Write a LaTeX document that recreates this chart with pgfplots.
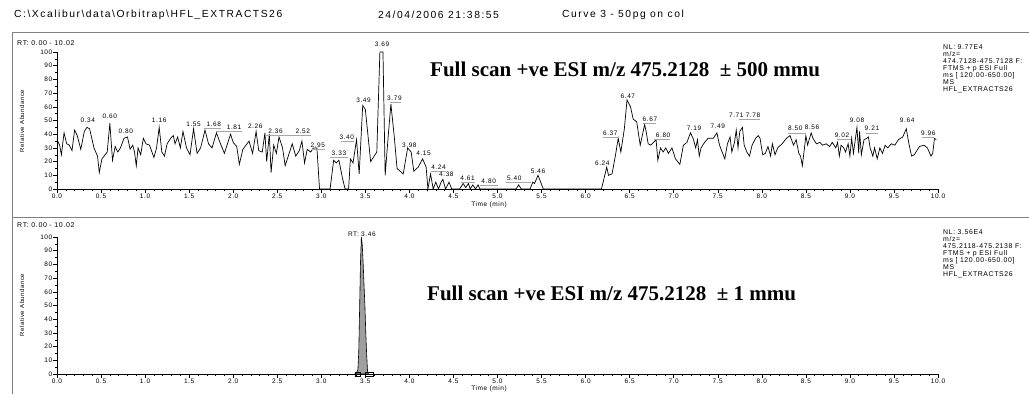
\documentclass[border=0pt]{standalone}
\usepackage{fontspec}
\setmainfont{Liberation Sans}
\newfontfamily\hdrfont[LetterSpace=15]{Liberation Sans}
\newfontfamily\smfont[LetterSpace=9]{Liberation Sans}
\newfontfamily\bigfont{Liberation Serif}
\usepackage{pgfplots}
\usepackage{pgfplotstable}
\pgfplotsset{compat=1.18}

\pgfplotstableread{
t v
0.00 36
0.03 32
0.05 25
0.08 41
0.11 33
0.14 32
0.17 28
0.20 43
0.23 39
0.27 29
0.31 42
0.34 45
0.37 44
0.42 30
0.46 24
0.48 12
0.51 22
0.57 27
0.60 48
0.63 21
0.66 31
0.69 27
0.72 30
0.76 37
0.80 38
0.83 29
0.86 32
0.88 27
0.90 17
0.92 30
0.95 25
0.98 37
1.01 33
1.05 32
1.10 23
1.13 30
1.16 45
1.19 27
1.22 24
1.25 33
1.29 37
1.32 39
1.34 33
1.37 38
1.40 30
1.43 42
1.47 30
1.51 25
1.55 44
1.59 26
1.63 30
1.68 43
1.72 33
1.76 30
1.81 41
1.85 34
1.90 26
1.97 40
2.00 34
2.04 31
2.07 18
2.11 29
2.18 35
2.22 26
2.26 42
2.29 28
2.33 27
2.36 41
2.38 20
2.41 40
2.43 12
2.46 32
2.49 26
2.52 38
2.56 30
2.59 17
2.63 25
2.67 33
2.71 24
2.75 28
2.78 35
2.81 19
2.84 29
2.88 27
2.91 30
2.95 30
2.98 0
3.10 0
3.14 21
3.17 19
3.20 21
3.24 8
3.27 0
3.31 0
3.33 22
3.36 19
3.40 36
3.43 11
3.47 61
3.50 58
3.56 20
3.63 27
3.665 100
3.70 100
3.725 10
3.76 39
3.79 62
3.83 37
3.86 15
3.93 11
3.98 30
4.02 27
4.05 13
4.10 16
4.15 22
4.19 16
4.21 0
4.24 11
4.27 0
4.30 5
4.33 0
4.36 5
4.38 7
4.41 0
4.45 5
4.48 0
4.57 0
4.61 4
4.64 1
4.67 4
4.69 0
4.72 3
4.75 0
4.78 3
4.80 0
5.21 0
5.24 3
5.27 0
5.37 0
5.40 5
5.42 4
5.46 10
5.52 0
6.18 0
6.24 16
6.26 10
6.30 11
6.34 25
6.37 37
6.40 27
6.44 44
6.47 65
6.51 60
6.54 51
6.58 49
6.62 32
6.67 47
6.69 41
6.71 33
6.74 32
6.80 36
6.82 21
6.85 30
6.88 27
6.91 30
6.94 26
6.98 30
7.02 22
7.07 18
7.11 32
7.15 34
7.19 41
7.22 37
7.25 30
7.27 36
7.29 24
7.31 30
7.35 34
7.39 37
7.45 37
7.49 41
7.52 32
7.55 27
7.58 22
7.61 33
7.64 38
7.66 27
7.69 34
7.71 43
7.73 30
7.75 42
7.78 45
7.80 32
7.83 27
7.86 24
7.89 32
7.93 37
7.96 39
7.98 37
8.01 25
8.04 26
8.07 31
8.10 24
8.12 33
8.15 25
8.18 30
8.23 33
8.28 37
8.32 39
8.36 32
8.39 36
8.42 26
8.44 24
8.46 17
8.49 33
8.50 39
8.52 32
8.56 41
8.58 37
8.62 33
8.66 34
8.69 32
8.73 33
8.77 31
8.80 34
8.84 30
8.86 34
8.88 24
8.90 32
8.93 30
8.95 27
8.98 33
9.00 24
9.02 37
9.04 26
9.08 45
9.10 26
9.11 42
9.13 25
9.16 36
9.19 37
9.21 38
9.23 30
9.26 24
9.28 30
9.31 22
9.34 30
9.37 26
9.40 32
9.43 30
9.47 33
9.51 32
9.55 36
9.60 38
9.64 44
9.67 33
9.70 24
9.73 25
9.79 31
9.84 32
9.88 30
9.92 24
9.94 26
9.96 37
9.98 36
}\topdata

\pgfplotstableread{
t v
3.38 0
3.40 1
3.415 3
3.425 16
3.435 48
3.445 82
3.455 100
3.465 94
3.475 81
3.485 65
3.495 50
3.505 30
3.515 14
3.525 2
3.535 0
}\botdata

\tikzset{lab/.style={font=\smfont\fontsize{6.5}{7}\selectfont, inner sep=0pt}}

\pgfplotsset{
  chrom/.style={
    scale only axis, width=881pt, xmin=0, xmax=10, ymin=0, ymax=100,
    axis x line*=bottom, axis y line*=left,
    axis line style={black, line width=0.6pt},
    xtick={0,0.5,1,1.5,2,2.5,3,3.5,4,4.5,5,5.5,6,6.5,7,7.5,8,8.5,9,9.5,10},
    xticklabels={0.0,0.5,1.0,1.5,2.0,2.5,3.0,3.5,4.0,4.5,5.0,5.5,6.0,6.5,7.0,7.5,8.0,8.5,9.0,9.5,10.0},
    minor x tick num=4,
    ytick={0,10,20,30,40,50,60,70,80,90,100},
    yticklabels={0,10,20,30,40,50,60,70,80,90,100},
    minor y tick num=1,
    tick align=outside, major tick length=3.5pt, minor tick length=2pt,
    tick style={black, line width=0.5pt},
    xticklabel style={font=\smfont\fontsize{6.5}{7}\selectfont, inner sep=1pt},
    yticklabel style={font=\smfont\fontsize{6.5}{7}\selectfont, inner sep=1pt},
    clip=false,
  },
}

\begin{document}
\begin{tikzpicture}
\path[use as bounding box] (0pt,0pt) rectangle (1029pt,-394pt);

% frame lines
\draw[gray, line width=0.9pt] (12pt,-32pt) -- (1029pt,-32pt);
\draw[gray, line width=0.9pt] (12pt,-32pt) -- (12pt,-394pt);
\draw[gray, line width=0.9pt] (12pt,-217pt) -- (1029pt,-217pt);

% header
\node[anchor=west, font=\hdrfont\fontsize{10.3}{12}\selectfont, inner sep=0pt] at (14pt,-15pt) {C:\textbackslash Xcalibur\textbackslash data\textbackslash Orbitrap\textbackslash HFL\_EXTRACTS26};
\node[anchor=west, font=\hdrfont\fontsize{10.3}{12}\selectfont, inner sep=0pt] at (378pt,-15pt) {24/04/2006 21:38:55};
\node[anchor=west, font=\hdrfont\fontsize{10.3}{12}\selectfont, inner sep=0pt] at (562pt,-15pt) {Curve 3 - 50pg on col};

% RT ranges
\node[anchor=west, font=\smfont\fontsize{7}{8}\selectfont, inner sep=0pt] at (17pt,-43pt) {RT: 0.00 - 10.02};
\node[anchor=west, font=\smfont\fontsize{7}{8}\selectfont, inner sep=0pt] at (17pt,-225pt) {RT: 0.00 - 10.02};

% y labels
\node[rotate=90, font=\smfont\fontsize{6}{7}\selectfont, inner sep=0pt] at (22pt,-121pt) {Relative Abundance};
\node[rotate=90, font=\smfont\fontsize{6}{7}\selectfont, inner sep=0pt] at (22pt,-305pt) {Relative Abundance};

% x labels
\node[font=\smfont\fontsize{6.5}{7}\selectfont, inner sep=0pt] at (489pt,-205pt) {Time (min)};
\node[font=\smfont\fontsize{6.5}{7}\selectfont, inner sep=0pt] at (489pt,-389pt) {Time (min)};

% right info blocks
\foreach \txt [count=\i from 0] in {NL: 9.77E4, m/z=, 474.7128-475.7128 F:, FTMS + p ESI Full, {ms [ 120.00-650.00]}, MS, HFL\_EXTRACTS26}
  \node[anchor=west, font=\smfont\fontsize{6.9}{7}\selectfont, inner sep=0pt] at (943pt,-47pt-7.1pt*\i) {\txt};
\foreach \txt [count=\i from 0] in {NL: 3.56E4, m/z=, 475.2118-475.2138 F:, FTMS + p ESI Full, {ms [ 120.00-650.00]}, MS, HFL\_EXTRACTS26}
  \node[anchor=west, font=\smfont\fontsize{6.9}{7}\selectfont, inner sep=0pt] at (943pt,-232pt-7.1pt*\i) {\txt};

% big annotations
\node[anchor=base west, font=\bigfont\bfseries\fontsize{21}{24}\selectfont, inner sep=0pt] at (430pt,-76pt) {Full scan +ve ESI m/z 475.2128~ ± 500 mmu};
\node[anchor=base west, font=\bigfont\bfseries\fontsize{21}{24}\selectfont, inner sep=0pt] at (427pt,-300pt) {Full scan +ve ESI m/z 475.2128~ ± 1 mmu};

% ---------- top panel ----------
\begin{axis}[chrom, at={(57pt,-189pt)}, anchor=south west, height=137pt]
\addplot[black, line width=0.7pt] table[x=t, y=v] {\topdata};
% leader lines
\foreach \a/\b/\c in {1.67/1.86/44, 1.81/2.10/42, 2.36/2.88/39, 2.90/3.04/29, 3.10/3.30/23, 3.22/3.37/35, 3.78/3.90/63, 4.24/4.42/13, 4.58/4.75/5, 4.80/5.00/3, 5.10/5.38/5, 6.20/6.37/38, 6.65/6.80/48, 6.78/6.96/36, 7.74/7.98/51, 8.30/8.50/41, 8.85/9.01/36, 9.18/9.32/41, 9.82/9.96/38}
  {\edef\temp{\noexpand\draw[gray!70, line width=0.6pt] (axis cs:\a,\c) -- (axis cs:\b,\c);}\temp}
\node[lab] at (axis cs:0.35,50) {0.34};
\node[lab] at (axis cs:0.60,53) {0.60};
\node[lab] at (axis cs:0.78,42) {0.80};
\node[lab] at (axis cs:1.16,50) {1.16};
\node[lab] at (axis cs:1.55,47) {1.55};
\node[lab] at (axis cs:1.78,47) {1.68};
\node[lab] at (axis cs:2.01,45) {1.81};
\node[lab] at (axis cs:2.25,46) {2.26};
\node[lab] at (axis cs:2.48,42) {2.36};
\node[lab] at (axis cs:2.79,42) {2.52};
\node[lab] at (axis cs:2.96,32) {2.95};
\node[lab] at (axis cs:3.20,26) {3.33};
\node[lab] at (axis cs:3.29,38) {3.40};
\node[lab] at (axis cs:3.48,65) {3.49};
\node[lab] at (axis cs:3.69,106) {3.69};
\node[lab] at (axis cs:3.83,66) {3.79};
\node[lab] at (axis cs:4.00,32) {3.98};
\node[lab] at (axis cs:4.16,26) {4.15};
\node[lab] at (axis cs:4.33,16) {4.24};
\node[lab] at (axis cs:4.42,11) {4.38};
\node[lab] at (axis cs:4.66,8) {4.61};
\node[lab] at (axis cs:4.90,6) {4.80};
\node[lab] at (axis cs:5.19,8) {5.40};
\node[lab] at (axis cs:5.46,13) {5.46};
\node[lab] at (axis cs:6.19,19) {6.24};
\node[lab] at (axis cs:6.28,41) {6.37};
\node[lab] at (axis cs:6.48,68) {6.47};
\node[lab] at (axis cs:6.73,51) {6.67};
\node[lab] at (axis cs:6.88,39) {6.80};
\node[lab] at (axis cs:7.23,44) {7.19};
\node[lab] at (axis cs:7.50,46) {7.49};
\node[lab] at (axis cs:7.71,54) {7.71};
\node[lab] at (axis cs:7.90,54) {7.78};
\node[lab] at (axis cs:8.38,44) {8.50};
\node[lab] at (axis cs:8.57,45) {8.56};
\node[lab] at (axis cs:8.91,39) {9.02};
\node[lab] at (axis cs:9.08,50) {9.08};
\node[lab] at (axis cs:9.25,44) {9.21};
\node[lab] at (axis cs:9.65,50) {9.64};
\node[lab] at (axis cs:9.89,41) {9.96};
\end{axis}

% ---------- bottom panel ----------
\begin{axis}[chrom, at={(57pt,-374pt)}, anchor=south west, height=137pt]
\addplot[black, line width=0.6pt, fill=gray!75] table[x=t, y=v] {\botdata} \closedcycle;
\addplot[black, line width=0.5pt] coordinates {(3.38,-1.5) (3.44,-1.5) (3.44,1.5) (3.38,1.5) (3.38,-1.5)};
\addplot[black, line width=0.5pt] coordinates {(3.50,-1.5) (3.59,-1.5) (3.59,1.5) (3.50,1.5) (3.50,-1.5)};
\node[lab, anchor=south] at (axis cs:3.46,100.5) {RT: 3.46};
\end{axis}
\end{tikzpicture}
\end{document}
